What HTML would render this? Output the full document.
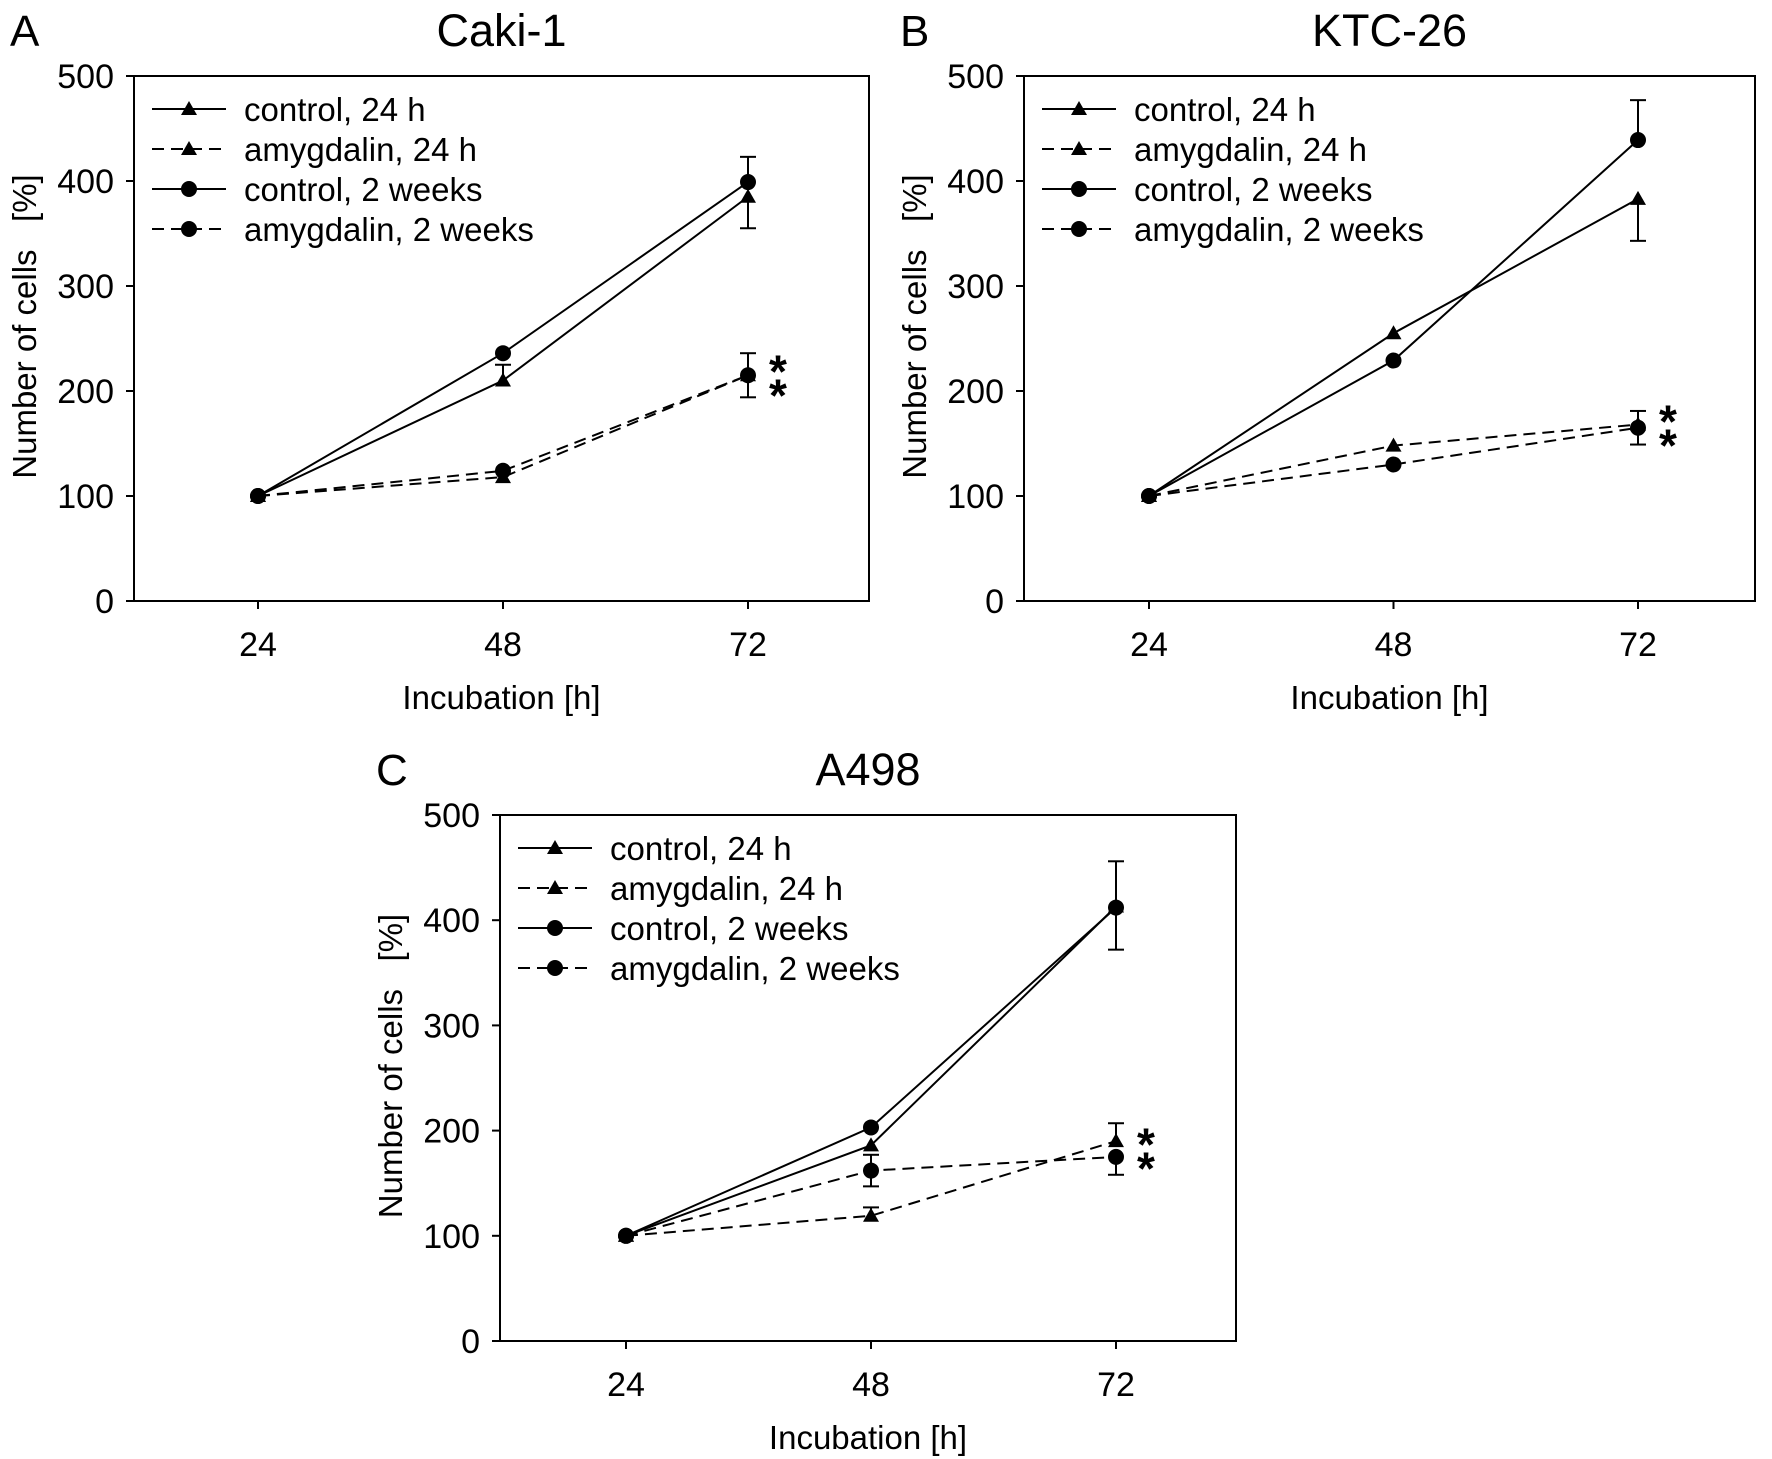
<!DOCTYPE html>
<html><head><meta charset="utf-8"><style>
html,body{margin:0;padding:0;background:#fff;}
svg{display:block;font-family:"Liberation Sans",Arial,sans-serif;}
</style></head><body>
<svg id="chart" width="1772" height="1459" viewBox="0 0 1772 1459"></svg>
<script>
const xCategories = [24, 48, 72];
const yTicks = [0, 100, 200, 300, 400, 500];
const seriesNames = ["control, 24 h", "amygdalin, 24 h", "control, 2 weeks", "amygdalin, 2 weeks"];
const panelTitles = ["Caki-1", "KTC-26", "A498"];
const panelLetters = ["A", "B", "C"];
// Panel A values
const aControl24 = [100, 210, 385];
const aAmyg24 = [100, 118, 215];
const aControl2w = [100, 236, 399];
const aAmyg2w = [100, 124, 215];
const aErrUp = [[0,15,0],[0,0,0],[0,0,24],[0,0,21]];
const aErrDown = [[0,0,30],[0,0,0],[0,0,0],[0,0,21]];
// Panel B values
const bControl24 = [100, 255, 383];
const bAmyg24 = [100, 148, 168];
const bControl2w = [100, 229, 439];
const bAmyg2w = [100, 130, 165];
const bErrUp = [[0,0,0],[0,0,0],[0,0,38],[0,0,16]];
const bErrDown = [[0,0,40],[0,0,0],[0,0,0],[0,0,16]];
// Panel C values
const cControl24 = [100, 186, 413];
const cAmyg24 = [100, 119, 190];
const cControl2w = [100, 203, 412];
const cAmyg2w = [100, 162, 175];
const cErrUp = [[0,0,0],[0,8,17],[0,0,44],[0,15,0]];
const cErrDown = [[0,0,41],[0,0,0],[0,0,0],[0,15,17]];

const NS = "http://www.w3.org/2000/svg";
const svg = document.getElementById("chart");
function mk(tag, attrs, parent){const e=document.createElementNS(NS,tag);for(const k in attrs)e.setAttribute(k,attrs[k]);(parent||svg).appendChild(e);return e;}

const panels = [
 {L:134,R:869,T:76,B:601,x0:258,x1:748,series:[aControl24,aAmyg24,aControl2w,aAmyg2w],up:aErrUp,dn:aErrDown,stars:215},
 {L:1024,R:1755,T:76,B:601,x0:1149,x1:1638,series:[bControl24,bAmyg24,bControl2w,bAmyg2w],up:bErrUp,dn:bErrDown,stars:167},
 {L:500,R:1236,T:815,B:1341,x0:626,x1:1116,series:[cControl24,cAmyg24,cControl2w,cAmyg2w],up:cErrUp,dn:cErrDown,stars:183}
];
const dashed=[false,true,false,true];
const tri=[true,true,false,false];

function marker(g,x,y,isTri){
  if(isTri){const e=mk("polygon",{points:`${x},${y-8} ${x-8},${y+6} ${x+8},${y+6}`,fill:"#000"},g);
    
    }
  else{const e=mk("circle",{cx:x,cy:y,r:8,fill:"#000"},g);
    
    }
}

panels.forEach((p,pi)=>{
  const g=mk("g",{});
  
  
  const xs=i=>p.x0+(p.x1-p.x0)*i/(xCategories.length-1);
  const ys=v=>p.B-(p.B-p.T)*v/500;
  const fr=mk("rect",{x:p.L,y:p.T,width:p.R-p.L,height:p.B-p.T,fill:"none",stroke:"#000","stroke-width":2},g);
  
  
  yTicks.forEach(t=>{
    mk("line",{x1:p.L-8,x2:p.L,y1:ys(t),y2:ys(t),stroke:"#000","stroke-width":2},g);
    const tx=mk("text",{x:p.L-20,y:ys(t)+12,"text-anchor":"end","font-size":34},g);tx.textContent=t;
    
    
  });
  xCategories.forEach((c,i)=>{
    mk("line",{x1:xs(i),x2:xs(i),y1:p.B,y2:p.B+8,stroke:"#000","stroke-width":2},g);
    const tx=mk("text",{x:xs(i),y:p.B+55,"text-anchor":"middle","font-size":34},g);tx.textContent=c;
    
    
  });
  const cx=(p.L+p.R)/2;
  let t=mk("text",{x:cx,y:p.B+108,"text-anchor":"middle","font-size":33},g);t.textContent="Incubation [h]";
  
  
  const yc=(p.T+p.B)/2;
  t=mk("text",{x:0,y:0,"text-anchor":"middle","font-size":33,transform:`translate(${p.L-98},${yc-12}) rotate(-90)`},g);t.textContent="Number of cells\u00a0\u00a0\u00a0[%]";
  
  
  t=mk("text",{x:cx,y:p.T-30,"text-anchor":"middle","font-size":45},g);t.textContent=panelTitles[pi];
  
  
  t=mk("text",{x:p.L-124,y:p.T-30,"font-size":44},g);t.textContent=panelLetters[pi];
  
  
  p.series.forEach((vals,si)=>{
    const sg=mk("g",{},g);
    
    
    vals.forEach((v,i)=>{
      const up=p.up[si][i],dn=p.dn[si][i];
      if(up||dn){
        const x=xs(i);
        mk("line",{x1:x,x2:x,y1:ys(v+up),y2:ys(v-dn),stroke:"#000","stroke-width":2},sg);
        if(up)mk("line",{x1:x-8,x2:x+8,y1:ys(v+up),y2:ys(v+up),stroke:"#000","stroke-width":2},sg);
        if(dn)mk("line",{x1:x-8,x2:x+8,y1:ys(v-dn),y2:ys(v-dn),stroke:"#000","stroke-width":2},sg);
      }
    });
    const pts=vals.map((v,i)=>xs(i)+","+ys(v)).join(" ");
    const ln=mk("polyline",{points:pts,fill:"none",stroke:"#000","stroke-width":2},sg);
    if(dashed[si])ln.setAttribute("stroke-dasharray","12,7");
    
    
    vals.forEach((v,i)=>marker(sg,xs(i),ys(v),tri[si]));
  });
  const st=mk("text",{x:p.x1+30,y:ys(p.stars)+12,"text-anchor":"middle","font-size":46,"font-weight":"bold"},g);st.textContent="*";
  
  
  const st2=mk("text",{x:p.x1+30,y:ys(p.stars)+36,"text-anchor":"middle","font-size":46,"font-weight":"bold"},g);st2.textContent="*";
  
  
  const lg=mk("g",{},g);
  
  
  seriesNames.forEach((n,si)=>{
    const y=p.T+33+si*40;
    const l=mk("line",{x1:p.L+18,x2:p.L+92,y1:y,y2:y,stroke:"#000","stroke-width":2},lg);
    if(dashed[si])l.setAttribute("stroke-dasharray","12,7");
    marker(lg,p.L+55,y,tri[si]);
    const tx=mk("text",{x:p.L+110,y:y+12,"font-size":33},lg);tx.textContent=n;
    
    
  });
});
</script>
</body></html>
